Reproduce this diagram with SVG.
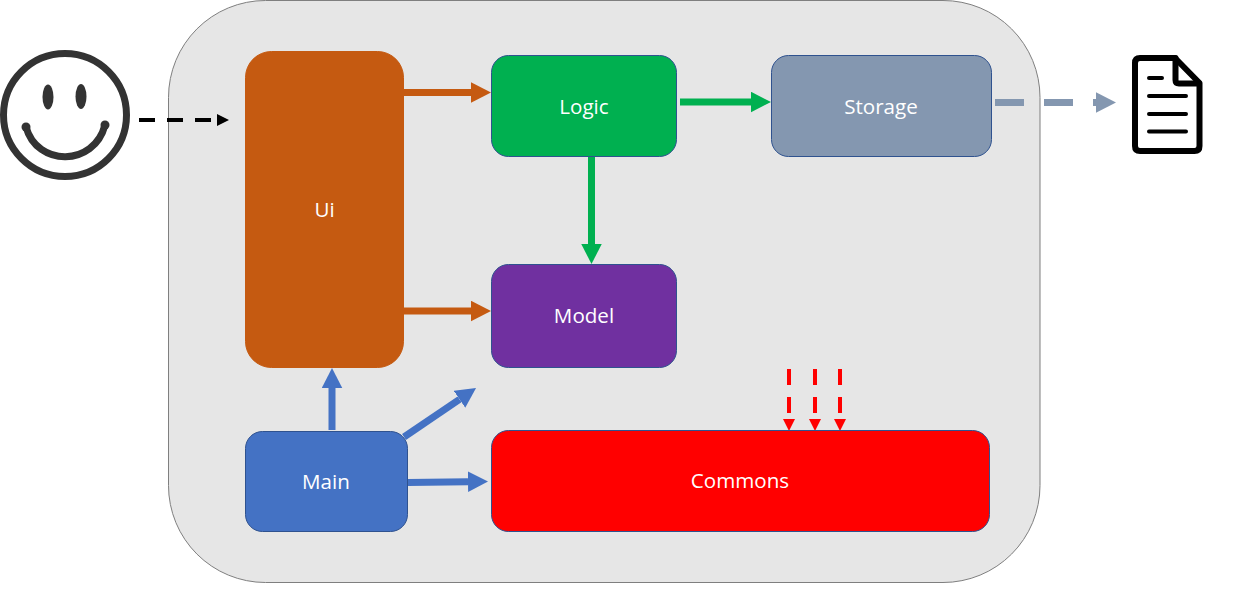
<svg xmlns="http://www.w3.org/2000/svg" width="1235" height="589" viewBox="0 0 1235 589">
<style>
.node{stroke:#2f528f;stroke-width:1}
.label{font-family:"Open Sans","Noto Sans","Liberation Sans",sans-serif;font-size:20.6px;fill:#fff;text-anchor:middle}
.c{fill:none}
.orange{stroke:#c55a11;stroke-width:7}
.green{stroke:#00b050;stroke-width:7}
.blue{stroke:#4472c4;stroke-width:7}
.slate{stroke:#8497b0;stroke-width:7;stroke-dasharray:29 20}
.red{stroke:#f00;stroke-width:4;stroke-dasharray:16 12}
.black{stroke:#000;stroke-width:4;stroke-dasharray:16 12}
.ink{fill:none;stroke:#333;stroke-width:7;stroke-linecap:round}
</style>
<defs>
<marker id="aO" markerUnits="userSpaceOnUse" markerWidth="21" markerHeight="21" refX="0" refY="10.5" orient="auto"><path d="M0 0.25L20 10.5L0 20.75Z" fill="#c55a11"/></marker>
<marker id="aG" markerUnits="userSpaceOnUse" markerWidth="21" markerHeight="21" refX="0" refY="10.5" orient="auto"><path d="M0 0.25L20 10.5L0 20.75Z" fill="#00b050"/></marker>
<marker id="aB" markerUnits="userSpaceOnUse" markerWidth="21" markerHeight="21" refX="0" refY="10.5" orient="auto"><path d="M0 0.25L20 10.5L0 20.75Z" fill="#4472c4"/></marker>
<marker id="aS" markerUnits="userSpaceOnUse" markerWidth="21" markerHeight="21" refX="0" refY="10.5" orient="auto"><path d="M0 0.25L20 10.5L0 20.75Z" fill="#8497b0"/></marker>
<marker id="aR" markerUnits="userSpaceOnUse" markerWidth="13" markerHeight="13" refX="0" refY="6.5" orient="auto"><path d="M0 0.5L12 6.5L0 12.500Z" fill="#f00"/></marker>
<marker id="aK" markerUnits="userSpaceOnUse" markerWidth="13" markerHeight="13" refX="0" refY="6.5" orient="auto"><path d="M0 0.5L12 6.5L0 12.500Z" fill="#000"/></marker>
</defs>
<rect id="app" x="168.5" y="0.5" width="871.5" height="582" rx="97" ry="97" fill="#e6e6e6" stroke="#7f7f7f"/>
<g id="user">
<circle cx="65" cy="115" r="61.5" class="ink"/>
<ellipse cx="48" cy="97" rx="5.5" ry="12.5" fill="#333"/>
<ellipse cx="81" cy="96.5" rx="5.5" ry="12.5" fill="#333"/>
<path d="M26 127C37 167 94 167 105 125" class="ink"/>
<circle cx="26" cy="127" r="4.500" fill="#333"/>
<circle cx="105" cy="125" r="4.500" fill="#333"/>
</g>
<g id="file" fill="none" stroke="#000" stroke-linejoin="round" stroke-linecap="round">
<path d="M1140 58H1175L1199.500 83V146Q1199.500 151 1194.500 151H1140Q1135 151 1135 146V63Q1135 58 1140 58Z" stroke-width="6" fill="#fff"/>
<path d="M1175.500 58V80Q1175.500 83.500 1179 83.500H1199" stroke-width="6"/>
<path d="M1149 78H1162M1149 96H1186M1149 114H1186M1149 131.500H1186" stroke-width="4"/>
</g>
<g id="connectors">
<path class="c black" d="M139 120H217" marker-end="url(#aK)"/>
<path class="c orange" d="M404 92.500H471" marker-end="url(#aO)"/>
<path class="c orange" d="M404 311H471" marker-end="url(#aO)"/>
<path class="c green" d="M680 102H751" marker-end="url(#aG)"/>
<path class="c green" d="M591.500 157V244" marker-end="url(#aG)"/>
<path class="c slate" d="M995 102.500H1096" marker-end="url(#aS)"/>
<path class="c blue" d="M332 430V388" marker-end="url(#aB)"/>
<path class="c blue" d="M404 437L459.500 399.300" marker-end="url(#aB)"/>
<path class="c blue" d="M408 482.500L468 481.750" marker-end="url(#aB)"/>
<path class="c red" d="M789 369V419" marker-end="url(#aR)"/>
<path class="c red" d="M815 369V419" marker-end="url(#aR)"/>
<path class="c red" d="M840 369V419" marker-end="url(#aR)"/>
</g>
<g id="ui"><rect x="245.5" y="51.500" width="158" height="316" rx="26" fill="#c55a11" stroke="#c55a11"/><text class="label" x="324.500" y="217">Ui</text></g>
<g id="logic"><rect class="node" x="491.500" y="55.500" width="185" height="101" rx="17" fill="#00b050"/><text class="label" x="584" y="114">Logic</text></g>
<g id="storage"><rect class="node" x="771.500" y="55.500" width="220" height="101" rx="17" fill="#8497b0"/><text class="label" x="881" y="114">Storage</text></g>
<g id="model"><rect class="node" x="491.500" y="264.500" width="185" height="103" rx="17" fill="#7030a0"/><text class="label" x="584" y="323">Model</text></g>
<g id="main"><rect class="node" x="245.500" y="431.500" width="162" height="100" rx="17" fill="#4472c4"/><text class="label" x="326" y="489">Main</text></g>
<g id="commons"><rect class="node" x="491.500" y="430.500" width="498" height="101" rx="17" fill="#f00"/><text class="label" x="740" y="488">Commons</text></g>
</svg>
